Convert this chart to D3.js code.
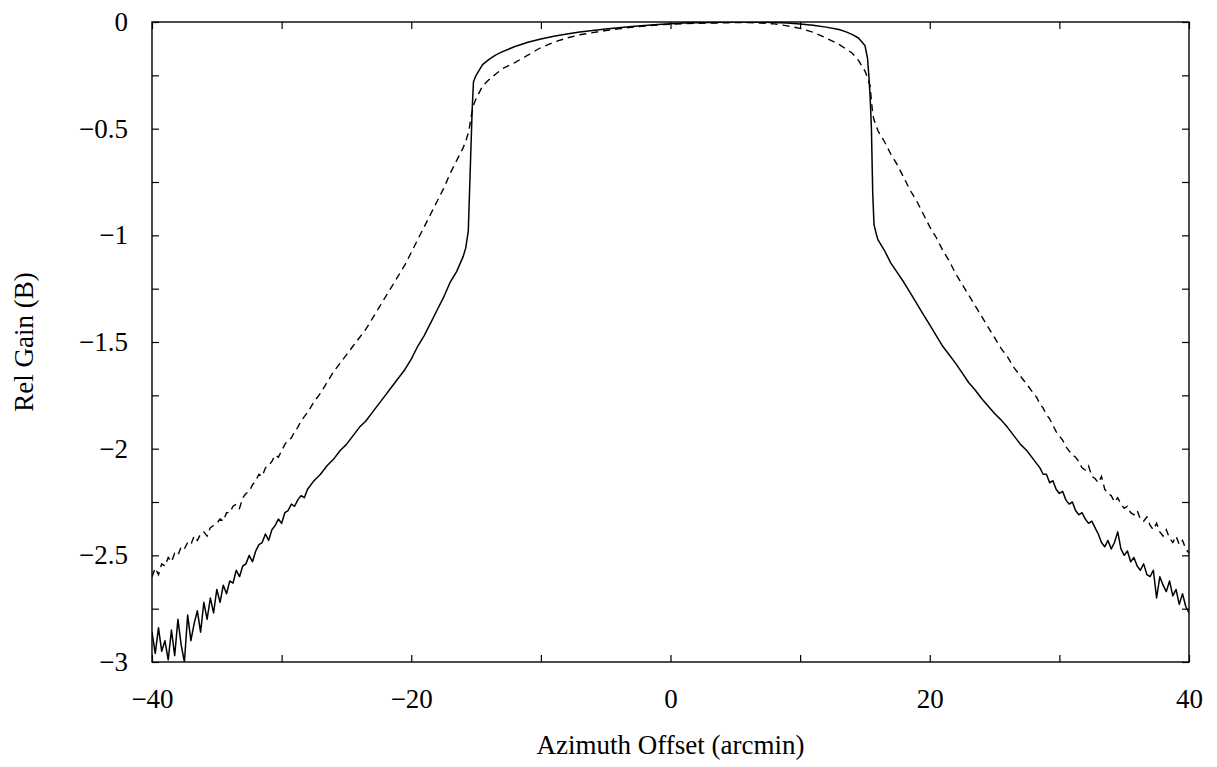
<!DOCTYPE html>
<html>
<head>
<meta charset="utf-8">
<script src="https://cdn.jsdelivr.net/npm/d3@7"></script>
<style>
  html, body { margin: 0; padding: 0; background: #fff; }
  svg { display: block; }
  text { font-family: "Liberation Serif", "DejaVu Serif", serif; fill: #000; }
</style>
</head>
<body>
<svg id="chart" width="1217" height="767"></svg>
<script>
// ---- data ----
const xTickValues = [-40, -30, -20, -10, 0, 10, 20, 30, 40];
const xTickLabels = [-40, -20, 0, 20, 40];
const yTickValues = [0, -0.25, -0.5, -0.75, -1, -1.25, -1.5, -1.75, -2, -2.25, -2.5, -2.75, -3];
const yTickLabels = [0, -0.5, -1, -1.5, -2, -2.5, -3];
const xTitle = "Azimuth Offset (arcmin)";
const yTitle = "Rel Gain (B)";

// solid curve: [azimuth offset, relative gain]
const solidBeam = [
  [-40,-2.86],[-39.75,-2.96],[-39.5,-2.84],[-39.25,-2.95],[-39,-2.90],[-38.75,-2.99],[-38.5,-2.85],[-38.25,-2.97],
  [-38,-2.80],[-37.75,-2.92],[-37.5,-3.00],[-37.25,-2.78],[-37,-2.90],[-36.75,-2.82],[-36.5,-2.76],[-36.25,-2.86],
  [-36,-2.72],[-35.75,-2.80],[-35.5,-2.70],[-35.25,-2.77],[-35,-2.66],[-34.75,-2.72],[-34.5,-2.64],[-34.25,-2.68],
  [-34,-2.62],[-33.75,-2.63],[-33.5,-2.57],[-33.25,-2.60],[-33,-2.55],[-32.75,-2.54],[-32.5,-2.50],[-32.25,-2.53],
  [-32,-2.48],[-31.75,-2.45],[-31.5,-2.44],[-31.25,-2.40],[-31,-2.43],[-30.75,-2.38],[-30.5,-2.36],[-30.25,-2.33],
  [-30,-2.35],[-29.75,-2.30],[-29.5,-2.29],[-29.25,-2.26],[-29,-2.27],[-28.75,-2.24],[-28.5,-2.22],[-28.25,-2.23],
  [-28,-2.19],[-27.5,-2.15],[-27,-2.12],[-26.5,-2.08],[-26,-2.05],[-25.5,-2.01],[-25,-1.98],[-24.5,-1.94],
  [-24,-1.90],[-23.5,-1.87],[-23,-1.83],[-22.5,-1.79],[-22,-1.75],[-21.5,-1.71],[-21,-1.67],[-20.5,-1.63],
  [-20,-1.58],[-19.5,-1.52],[-19,-1.47],[-18.5,-1.41],[-18,-1.35],[-17.5,-1.29],[-17,-1.22],[-16.5,-1.17],
  [-16,-1.10],[-15.8,-1.06],[-15.6,-0.98],[-15.5,-0.79],[-15.4,-0.60],[-15.3,-0.41],[-15.2,-0.28],[-15,-0.25],
  [-14.5,-0.20],[-14,-0.175],[-13.5,-0.155],[-13,-0.14],[-12,-0.115],[-11,-0.095],[-10,-0.08],[-9,-0.067],
  [-8,-0.056],[-7,-0.047],[-6,-0.04],[-5,-0.033],[-4,-0.027],[-3,-0.021],[-2,-0.016],[-1,-0.012],
  [0,-0.008],[1,-0.005],[2,-0.003],[3,-0.002],[4,-0.001],[5,0],[6,0],[7,-0.001],
  [8,-0.002],[9,-0.005],[10,-0.009],[11,-0.015],[12,-0.024],[13,-0.035],[13.5,-0.045],[14,-0.058],
  [14.5,-0.075],[15,-0.11],[15.2,-0.17],[15.3,-0.25],[15.4,-0.35],[15.5,-0.50],[15.6,-0.80],[15.7,-0.95],
  [15.9,-1.00],[16,-1.02],[16.5,-1.07],[17,-1.13],[17.5,-1.175],[18,-1.22],[18.5,-1.27],[19,-1.32],
  [19.5,-1.37],[20,-1.42],[20.5,-1.47],[21,-1.52],[21.5,-1.56],[22,-1.60],[22.5,-1.645],[23,-1.69],
  [23.5,-1.725],[24,-1.765],[24.5,-1.80],[25,-1.835],[25.5,-1.865],[26,-1.90],[26.5,-1.94],[27,-1.98],
  [27.5,-2.01],[28,-2.05],[28.25,-2.07],[28.5,-2.09],[28.75,-2.12],[29,-2.12],[29.25,-2.16],[29.5,-2.15],
  [29.75,-2.19],[30,-2.21],[30.25,-2.20],[30.5,-2.24],[30.75,-2.26],[31,-2.25],[31.25,-2.29],[31.5,-2.31],
  [31.75,-2.30],[32,-2.33],[32.25,-2.35],[32.5,-2.34],[32.75,-2.37],[33,-2.40],[33.25,-2.44],[33.5,-2.46],
  [33.75,-2.43],[34,-2.47],[34.25,-2.44],[34.5,-2.39],[34.75,-2.47],[35,-2.50],[35.25,-2.48],[35.5,-2.53],
  [35.75,-2.51],[36,-2.55],[36.25,-2.57],[36.5,-2.54],[36.75,-2.59],[37,-2.60],[37.25,-2.57],[37.5,-2.70],
  [37.75,-2.60],[38,-2.64],[38.25,-2.67],[38.5,-2.62],[38.75,-2.69],[39,-2.66],[39.25,-2.73],[39.5,-2.68],
  [39.75,-2.74],[40,-2.77]
];

// dashed curve: [azimuth offset, relative gain]
const dashedBeam = [
  [-40,-2.60],[-39.75,-2.56],[-39.5,-2.59],[-39.25,-2.54],[-39,-2.55],[-38.75,-2.51],[-38.5,-2.53],[-38.25,-2.49],
  [-38,-2.50],[-37.75,-2.46],[-37.5,-2.47],[-37.25,-2.44],[-37,-2.45],[-36.75,-2.41],[-36.5,-2.43],[-36.25,-2.40],
  [-36,-2.39],[-35.75,-2.41],[-35.5,-2.37],[-35.25,-2.36],[-35,-2.35],[-34.75,-2.33],[-34.5,-2.34],[-34.25,-2.30],
  [-34,-2.30],[-33.75,-2.27],[-33.5,-2.26],[-33.25,-2.28],[-33,-2.23],[-32.75,-2.21],[-32.5,-2.20],[-32.25,-2.17],
  [-32,-2.15],[-31.75,-2.12],[-31.5,-2.13],[-31.25,-2.09],[-31,-2.08],[-30.75,-2.06],[-30.5,-2.03],[-30.25,-2.04],
  [-30,-2.01],[-29.75,-1.98],[-29.5,-1.96],[-29.25,-1.95],[-29,-1.92],[-28.75,-1.90],[-28.5,-1.87],[-28.25,-1.85],
  [-28,-1.83],[-27.5,-1.78],[-27,-1.74],[-26.5,-1.69],[-26,-1.64],[-25.5,-1.60],[-25,-1.56],[-24.5,-1.52],
  [-24,-1.48],[-23.5,-1.44],[-23,-1.39],[-22.5,-1.34],[-22,-1.29],[-21.5,-1.24],[-21,-1.19],[-20.5,-1.14],
  [-20,-1.08],[-19.5,-1.02],[-19,-0.96],[-18.5,-0.90],[-18,-0.84],[-17.5,-0.78],[-17,-0.71],[-16.5,-0.65],
  [-16,-0.59],[-15.8,-0.56],[-15.6,-0.52],[-15.5,-0.49],[-15.4,-0.45],[-15.3,-0.42],[-15.2,-0.39],[-15,-0.36],
  [-14.5,-0.30],[-14,-0.27],[-13.5,-0.245],[-13,-0.22],[-12,-0.19],[-11,-0.155],[-10,-0.12],[-9,-0.095],
  [-8,-0.075],[-7,-0.06],[-6,-0.05],[-5,-0.04],[-4,-0.032],[-3,-0.025],[-2,-0.019],[-1,-0.014],
  [0,-0.01],[1,-0.008],[2,-0.006],[3,-0.005],[4,-0.004],[5,-0.003],[6,-0.003],[7,-0.005],
  [8,-0.009],[9,-0.018],[10,-0.03],[11,-0.048],[12,-0.075],[13,-0.105],[13.5,-0.125],[14,-0.145],
  [14.5,-0.18],[15,-0.23],[15.2,-0.26],[15.3,-0.28],[15.4,-0.30],[15.5,-0.37],[15.6,-0.43],[15.7,-0.46],
  [15.9,-0.49],[16,-0.51],[16.5,-0.56],[17,-0.62],[17.5,-0.67],[18,-0.73],[18.5,-0.79],[19,-0.84],
  [19.5,-0.90],[20,-0.96],[20.5,-1.01],[21,-1.07],[21.5,-1.12],[22,-1.18],[22.5,-1.23],[23,-1.28],
  [23.5,-1.33],[24,-1.38],[24.5,-1.43],[25,-1.48],[25.5,-1.53],[26,-1.57],[26.5,-1.62],[27,-1.66],
  [27.5,-1.70],[28,-1.74],[28.25,-1.76],[28.5,-1.79],[28.75,-1.81],[29,-1.84],[29.25,-1.86],[29.5,-1.89],
  [29.75,-1.92],[30,-1.94],[30.25,-1.96],[30.5,-1.99],[30.75,-2.01],[31,-2.03],[31.25,-2.04],[31.5,-2.06],
  [31.75,-2.09],[32,-2.10],[32.25,-2.08],[32.5,-2.13],[32.75,-2.14],[33,-2.16],[33.25,-2.13],[33.5,-2.19],
  [33.75,-2.21],[34,-2.22],[34.25,-2.25],[34.5,-2.23],[34.75,-2.26],[35,-2.28],[35.25,-2.27],[35.5,-2.30],
  [35.75,-2.31],[36,-2.29],[36.25,-2.33],[36.5,-2.34],[36.75,-2.32],[37,-2.36],[37.25,-2.38],[37.5,-2.35],
  [37.75,-2.39],[38,-2.41],[38.25,-2.38],[38.5,-2.42],[38.75,-2.44],[39,-2.41],[39.25,-2.45],[39.5,-2.43],
  [39.75,-2.47],[40,-2.49]
];

// ---- layout ----
const W = 1217, H = 767;
const plot = { left: 152, right: 1189, top: 22, bottom: 662 };
const svg = d3.select("#chart");

const x = d3.scaleLinear().domain([-40, 40]).range([plot.left, plot.right]);
const y = d3.scaleLinear().domain([-3, 0]).range([plot.bottom, plot.top]);

const fmt = d => d === 0 ? "0" : (d < 0 ? "\u2212" : "") + Math.abs(d);
const xLab = new Set(xTickLabels), yLab = new Set(yTickLabels);
const FS = 27;

svg.append("clipPath").attr("id", "clip")
  .append("rect").attr("x", plot.left).attr("y", plot.top)
  .attr("width", plot.right - plot.left).attr("height", plot.bottom - plot.top);

const line = d3.line().x(d => x(d[0])).y(d => y(d[1]));

svg.append("path").datum(dashedBeam)
  .attr("clip-path", "url(#clip)")
  .attr("fill", "none").attr("stroke", "#000").attr("stroke-width", 1.4)
  .attr("stroke-dasharray", "7,5")
  .attr("d", line);

svg.append("path").datum(solidBeam)
  .attr("clip-path", "url(#clip)")
  .attr("fill", "none").attr("stroke", "#000").attr("stroke-width", 1.5)
  .attr("stroke-linejoin", "round")
  .attr("d", line);

// axes (ticks inward, on all four sides)
function styleAxis(g) {
  g.select(".domain").remove();
  g.selectAll(".tick line").attr("stroke", "#000").attr("stroke-width", 1.2);
  g.selectAll(".tick text").attr("font-size", FS).attr("font-family", "Liberation Serif, serif").attr("fill", "#000");
}

svg.append("g").attr("transform", `translate(0,${plot.bottom})`)
  .call(d3.axisBottom(x).tickValues(xTickValues).tickSize(-7).tickPadding(27)
    .tickFormat(d => xLab.has(d) ? fmt(d) : ""))
  .call(styleAxis);

svg.append("g").attr("transform", `translate(0,${plot.top})`)
  .call(d3.axisTop(x).tickValues(xTickValues).tickSize(-7).tickFormat(""))
  .call(styleAxis);

svg.append("g").attr("transform", `translate(${plot.left},0)`)
  .call(d3.axisLeft(y).tickValues(yTickValues).tickSize(-7).tickPadding(24)
    .tickFormat(d => yLab.has(d) ? fmt(d) : ""))
  .call(styleAxis);

svg.append("g").attr("transform", `translate(${plot.right},0)`)
  .call(d3.axisRight(y).tickValues(yTickValues).tickSize(-7).tickFormat(""))
  .call(styleAxis);

// frame
svg.append("rect")
  .attr("x", plot.left).attr("y", plot.top)
  .attr("width", plot.right - plot.left).attr("height", plot.bottom - plot.top)
  .attr("fill", "none").attr("stroke", "#000").attr("stroke-width", 1.4);

// titles
svg.append("text")
  .attr("x", (plot.left + plot.right) / 2).attr("y", 754)
  .attr("text-anchor", "middle").attr("font-size", FS)
  .text(xTitle);

svg.append("text")
  .attr("transform", `translate(33,${(plot.top + plot.bottom) / 2}) rotate(-90)`)
  .attr("text-anchor", "middle").attr("font-size", FS)
  .text(yTitle);
</script>
</body>
</html>
